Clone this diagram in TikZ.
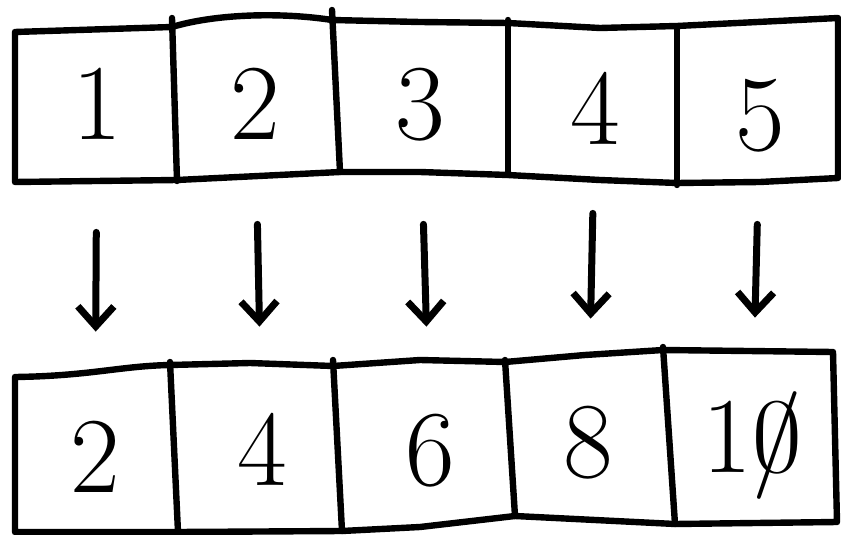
\documentclass[tikz,border=0pt]{standalone}
\usetikzlibrary{arrows.meta}
\newcommand{\slashzero}{\ooalign{0\cr\hidewidth/\hidewidth\cr}}
\begin{document}
\begin{tikzpicture}[x=0.5pt, y=-0.5pt,
  cellline/.style={line width=3.2pt, line join=round, line cap=round},
  digit/.style={font=\fontsize{54}{54}\selectfont, inner sep=0pt, text height=35pt, text depth=0pt},
  maparrow/.style={line width=3.5pt, line cap=round, -{Straight Barb[length=10pt, width=18pt, line width=3.5pt]}}]
  \useasboundingbox (0,0) rectangle (841,535);

  % input row
  \draw[cellline] (15,32) -- (172,27) .. controls (215,14) and (280,12) .. (332,20) -- (420,22) -- (508,23)
    -- (600,28) -- (677,26) -- (838,18) -- (838,178) -- (760,182) -- (677,183)
    -- (600,180) -- (508,175) -- (420,172) -- (340,172) -- (177,180) -- (15,182) -- cycle;
  \draw[cellline] (172,18) -- (177,181);
  \draw[cellline] (332,10) -- (340,172);
  \draw[cellline] (508,20) -- (508,175);
  \draw[cellline] (677,27) -- (677,185);

  \node[digit] (a1) at (97,105) {1};
  \node[digit] (a2) at (255,105) {2};
  \node[digit] (a3) at (420,105) {3};
  \node[digit] (a4) at (595,110) {4};
  \node[digit] (a5) at (760,115) {5};

  % output row
  \draw[cellline] (15,377) .. controls (90,376) and (120,366) .. (170,365) -- (250,363) -- (333,366) -- (420,360)
    -- (505,362) -- (585,355) -- (663,350) -- (833,352) -- (837,522) -- (675,524)
    -- (515,516) -- (420,527) -- (342,531) -- (178,532) -- (15,532) -- cycle;
  \draw[cellline] (170,362) -- (178,532);
  \draw[cellline] (333,360) -- (342,531);
  \draw[cellline] (505,360) -- (515,516);
  \draw[cellline] (663,347) -- (675,524);

  \node[digit] (b1) at (95,457) {2};
  \node[digit] (b2) at (262,450) {4};
  \node[digit] (b3) at (430,450) {6};
  \node[digit] (b4) at (588,442) {8};
  \node[digit] (b5) at (752,437) {1\slashzero};

  \foreach \i/\s/\e in {1/46/45, 2/42/44, 3/42/44, 4/34/44, 5/37/42}
    \draw[maparrow, shorten <=\s pt, shorten >=\e pt] (a\i) -- (b\i);
\end{tikzpicture}
\end{document}
